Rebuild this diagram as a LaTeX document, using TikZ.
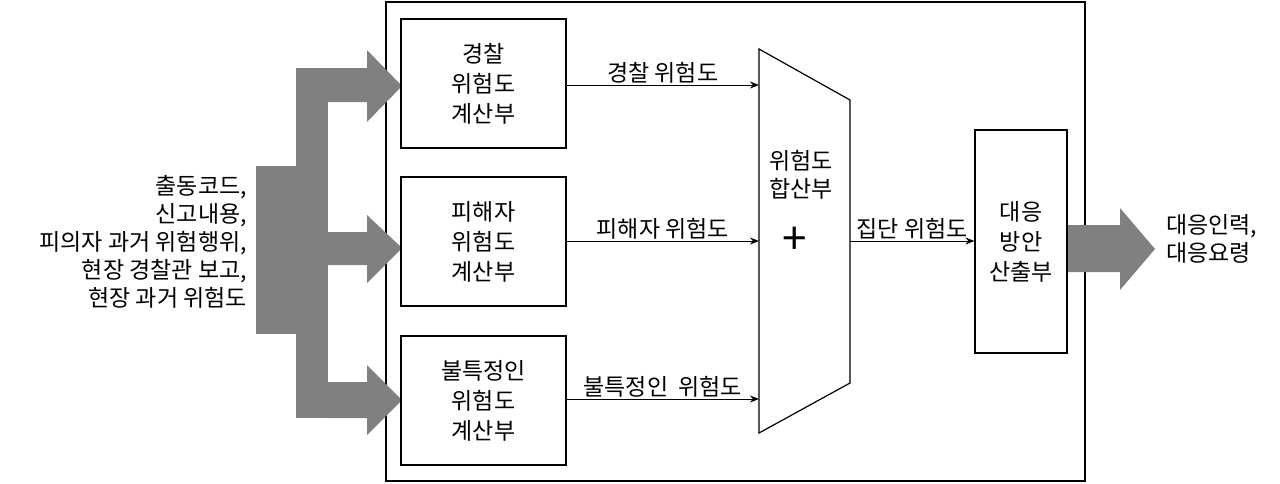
\documentclass[tikz,border=0pt]{standalone}
\usepackage{fontspec}
\setmainfont{Noto Sans CJK KR}
\usetikzlibrary{arrows.meta}
\begin{document}
\begin{tikzpicture}[x=1pt,y=-1pt,
  box/.style={draw,line width=1.2pt,minimum width=165pt,minimum height=129pt,align=center,font=\fontsize{23}{30}\selectfont,inner sep=0pt},
  lbl/.style={font=\fontsize{23}{28}\selectfont,inner sep=1pt},
  conn/.style={-{Stealth[length=9pt,width=7pt]},line width=1pt},
  grayfill/.style={fill=black!50,draw=none}]
\useasboundingbox (0,0) rectangle (1280,483);
\draw[line width=1.2pt] (386,2) rectangle (1085,481);
% gray distribution arrows
\fill[grayfill] (256,166) rectangle (300,334);
\fill[grayfill] (296,68) rectangle (328,418);
\foreach \yt/\yb/\ht/\hb/\tip in {68/102/50/122/86, 232/265/215/283/248, 382/418/365/435/400}{
  \fill[grayfill] (326,\yt) -- (367,\yt) -- (367,\ht) -- (402,\tip) -- (367,\hb) -- (367,\yb) -- (326,\yb) -- cycle;
}
\fill[grayfill] (1067,225) -- (1120,225) -- (1120,208) -- (1155,249) -- (1120,290) -- (1120,272) -- (1067,272) -- cycle;
\node[lbl,anchor=east,align=right] (inp) at (248,242) {출동코드,\\신고내용,\\피의자 과거 위험행위,\\현장 경찰관 보고,\\현장 과거 위험도};
\node[lbl,anchor=west,align=left] (out) at (1165,239) {대응인력,\\대응요령};
\node[box] (b1) at (483.5,83.5) {경찰\\위험도\\계산부};
\node[box] (b2) at (483.5,241.5) {피해자\\위험도\\계산부};
\node[box] (b3) at (483.5,400.5) {불특정인\\위험도\\계산부};
\draw[line width=1.2pt] (759,49) coordinate (tl) -- (850,100) -- (850,383) coordinate (br) -- (759,433) coordinate (bl) -- cycle;
\coordinate (m1) at (759,85);
\coordinate (m2) at (759,241);
\coordinate (m3) at (759,399);
\coordinate (mo) at (850,241);
\node[lbl,align=center] (sumt) at (801,175) {위험도\\합산부};
\node[font=\fontsize{44}{44}\selectfont,inner sep=0pt] (plus) at (795,241) {+};
\node[box,minimum width=92pt,minimum height=223pt] (r) at (1021,241.5) {대응\\방안\\산출부};
\draw[conn] (b1.east|-m1) -- node[lbl,above] {경찰 위험도} (m1);
\draw[conn] (b2.east|-m2) -- node[lbl,above] {피해자 위험도} (m2);
\draw[conn] (b3.east|-m3) -- node[lbl,above] {불특정인\ \ 위험도} (m3);
\draw[conn] (mo) -- node[lbl,above] {집단 위험도} (r.west|-mo);
\end{tikzpicture}
\end{document}
